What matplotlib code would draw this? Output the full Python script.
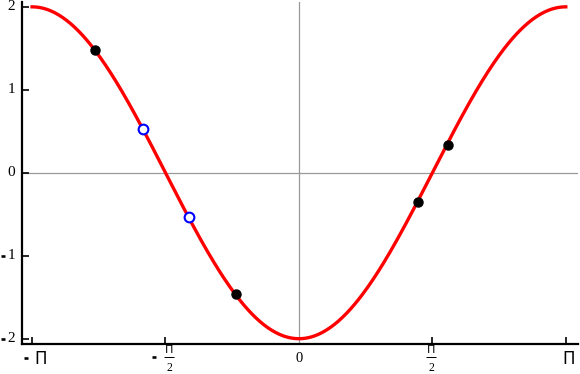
import numpy as np
import matplotlib.pyplot as plt
from matplotlib.transforms import blended_transform_factory, offset_copy

# curve: y = -2 cos(x) on [-pi, pi]
x_min, x_max = -np.pi, np.pi
amp = 2.0

# marked points
black_x = [-2.40, -0.74, 1.40, 1.75]
black_y = [1.48, -1.46, -0.35, 0.34]
blue_x = [-1.84, -1.29]
blue_y = [0.53, -0.53]

xticks = [-np.pi, -np.pi / 2, np.pi / 2, np.pi]
yticks = [-2, -1, 0, 1, 2]
PI = '\u03a0'

plt.rcParams['font.family'] = ['Liberation Serif', 'DejaVu Serif']

fig = plt.figure(figsize=(5.8, 3.74), dpi=100)
ax = fig.add_axes([0.038, 0.080, 0.958, 0.915])

xs = np.linspace(x_min, x_max, 400)
ax.plot(xs, -amp * np.cos(xs), color='red', lw=2.4, zorder=3)
ax.axhline(0, color='#999999', lw=0.9, zorder=1)
ax.axvline(0, color='#999999', lw=0.9, zorder=1)

ax.plot(black_x, black_y, 'o', color='black', ms=6.5, zorder=4)
ax.plot(blue_x, blue_y, 'o', mfc='white', mec='blue', mew=1.5, ms=7, zorder=4)

ax.set_xlim(x_min - 0.118, x_max + 0.14)
ax.set_ylim(-2.065, 2.06)

for s in ['top', 'right']:
    ax.spines[s].set_visible(False)
for s in ['left', 'bottom']:
    ax.spines[s].set_linewidth(1.6)

ax.tick_params(direction='in', length=5, width=1.2)
ax.set_xticks(xticks)
ax.set_xticklabels([])
ax.set_yticks(yticks)
ax.set_yticklabels([])

trans_x = blended_transform_factory(ax.transData, ax.transAxes)
trans_y = blended_transform_factory(ax.transAxes, ax.transData)


def shift(trans, dx, dy):
    # dx right, dy down, in pixels
    return offset_copy(trans, fig, x=dx, y=-dy, units='dots')


def dash(trans, x, y, dx, dy, width=5, thick=2.6):
    ax.plot([x], [y], marker='_', ms=width * 0.72, mew=thick * 0.72, color='black',
            transform=shift(trans, dx, dy), clip_on=False)


# y tick labels
for v in yticks:
    ax.text(0, v, str(abs(v)), transform=shift(trans_y, -7, 0), ha='right', va='center',
            fontsize=11)
    if v < 0:
        dash(trans_y, 0, v, -19.5, 0)

# x tick labels
ax.text(0, 0, '0', transform=shift(trans_x, 0, 8), ha='center', va='top', fontsize=10.5)
for v in xticks:
    if abs(v) > 2:
        dx = 9 if v < 0 else 3
        ax.text(v, 0, PI, transform=shift(trans_x, dx, 6), ha='center', va='top',
                fontsize=12, family='DejaVu Sans')
        if v < 0:
            dash(trans_x, v, 0, -6.5, 14)
    else:
        dx = 4 if v < 0 else -1
        ax.text(v, 0, PI, transform=shift(trans_x, dx, 1), ha='center', va='top',
                fontsize=8, family='DejaVu Sans')
        dash(trans_x, v, 0, dx, 12.5, width=10, thick=1)
        ax.text(v, 0, '2', transform=shift(trans_x, dx, 18), ha='center', va='top',
                fontsize=8.5)
        if v < 0:
            dash(trans_x, v, 0, -11.5, 13)

fig.savefig('out.png', dpi=100)
